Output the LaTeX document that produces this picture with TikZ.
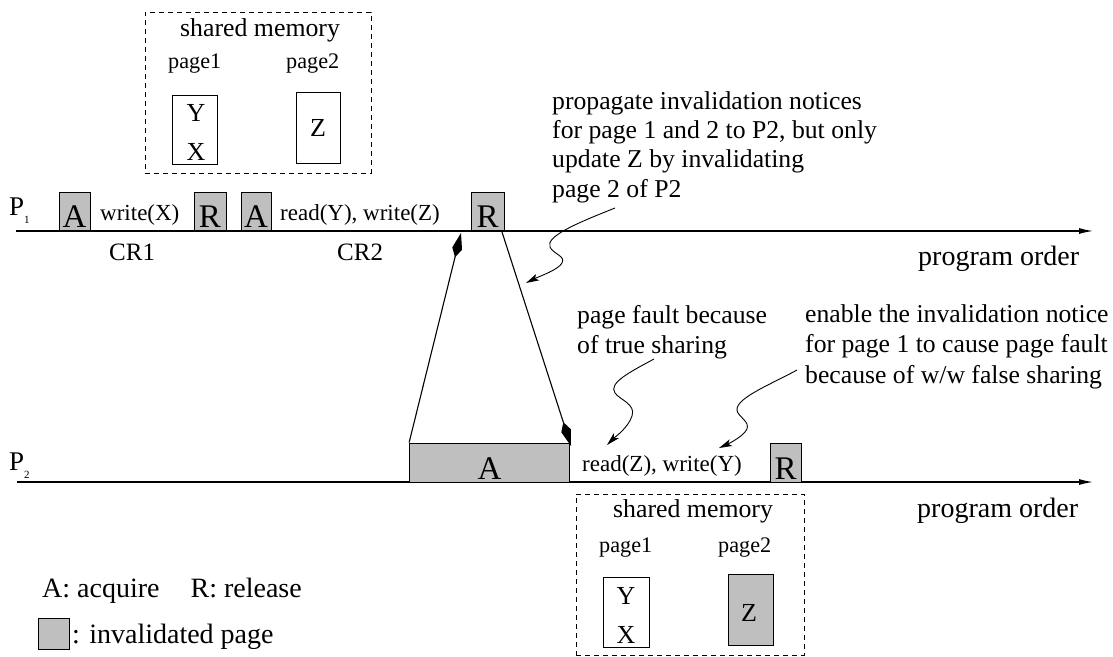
\documentclass[tikz,border=0pt]{standalone}
\usepackage{fontspec}
\setmainfont{Liberation Serif}
\usetikzlibrary{arrows.meta}
\definecolor{inval}{RGB}{191,191,191}
\begin{document}
\begin{tikzpicture}[x=1pt,y=-1pt,
  txt/.style={inner sep=0pt, anchor=base west},
  lbl/.style={txt, font=\fontsize{23}{27}\selectfont},
  ann/.style={txt, align=left, font=\fontsize{25.7}{30}\selectfont},
  big/.style={txt, font=\fontsize{28}{30}\selectfont},
  lockbox/.style={draw, fill=inval, line width=0.8pt, inner sep=0pt,
    minimum width=31pt, minimum height=38pt, text height=35pt, text depth=1.5pt,
    font=\fontsize{33}{33}\selectfont},
  pagebox/.style={draw, line width=0.9pt, inner sep=0pt},
  membox/.style={draw, dashed, dash pattern=on 5pt off 4pt, line width=0.8pt, inner sep=0pt},
  letter/.style={inner sep=0pt, font=\fontsize{26}{26}\selectfont},
  timeline/.style={line width=1.2pt, -{Latex[length=14pt,width=6pt]}},
  msg/.style={line width=1.1pt, -{Kite[length=25pt,width=10pt,inset=9pt]}},
  note/.style={line width=0.9pt, -{Stealth[length=13pt,width=7pt,inset=3pt]}}
]
\useasboundingbox (0,0) rectangle (1113,656);

% ---------- top shared memory ----------
\node[membox, minimum width=226pt, minimum height=161pt] (mem1) at (258,92.5) {};
\node[txt, font=\fontsize{25.8}{28}\selectfont] (sm1) at (180,36) {shared memory};
\node[txt, font=\fontsize{22.2}{26}\selectfont] (pg1a) at (168,68) {page1};
\node[txt, font=\fontsize{22.2}{26}\selectfont] (pg2a) at (286,68) {page2};
\node[pagebox, minimum width=45pt, minimum height=69pt] (b1a) at (194.5,129.5) {};
\node[pagebox, minimum width=44pt, minimum height=71pt] (b2a) at (318,127.5) {};
\node[letter] (ya) at (196,113) {Y};
\node[letter] (xa) at (196,152) {X};
\node[letter] (za) at (318,128) {Z};

% ---------- P1 ----------
\node[txt] (p1) at (9,215) {\fontsize{27}{27}\selectfont P\raisebox{-8pt}{\fontsize{11}{11}\selectfont 1}};
\coordinate (p1s) at (16,231);
\coordinate (p1e) at (1093,231);
\draw[timeline] (p1s) -- (p1e);
\node[lockbox] (a1) at (74.5,211) {A};
\node[lbl] (wx) at (100,220) {write(X)};
\node[lockbox, minimum width=32pt] (r1) at (210,211) {R};
\node[lockbox, minimum width=30pt] (a2) at (256,211) {A};
\node[lbl] (ryw) at (280,220) {read(Y), write(Z)};
\node[lockbox, minimum width=33pt] (r2) at (487.5,211) {R};
\node[txt, font=\fontsize{25}{28}\selectfont] (cr1) at (109,260) {CR1};
\node[txt, font=\fontsize{25}{28}\selectfont] (cr2) at (337,260) {CR2};
\node[big] (po1) at (918,265) {program order};

% ---------- annotations (base = last line) ----------
\node[ann, font=\fontsize{25.7}{29.2}\selectfont] (prop) at (552,197) {propagate invalidation notices\\for page 1 and 2 to P2, but only\\update Z by invalidating\\page 2 of P2};
\node[ann] (pf) at (577,353) {page fault because\\of true sharing};
\node[ann, font=\fontsize{25.7}{30.5}\selectfont] (en) at (805,383) {enable the invalidation notice\\for page 1 to cause page fault\\because of w/w false sharing};

% ---------- P2 ----------
\node[txt] (p2) at (9,470) {\fontsize{27}{27}\selectfont P\raisebox{-8pt}{\fontsize{11}{11}\selectfont 2}};
\coordinate (p2s) at (17,482);
\coordinate (p2e) at (1093,482);
\draw[timeline] (p2s) -- (p2e);
\node[lockbox, minimum width=160pt, minimum height=39pt] (abig) at (489.5,462.5) {A};
\node[lbl] (rzw) at (582,471) {read(Z), write(Y)};
\node[lockbox, minimum width=31pt, minimum height=39pt] (r3) at (785.5,462.5) {R};
\node[big] (po2) at (917,517) {program order};

% ---------- bottom shared memory ----------
\node[membox, minimum width=228pt, minimum height=161pt] (mem2) at (690,574.5) {};
\node[txt, font=\fontsize{25.8}{28}\selectfont] (sm2) at (613,517) {shared memory};
\node[txt, font=\fontsize{22.2}{26}\selectfont] (pg1b) at (599,552) {page1};
\node[txt, font=\fontsize{22.2}{26}\selectfont] (pg2b) at (718,552) {page2};
\node[pagebox, minimum width=46pt, minimum height=70pt] (b1b) at (626,612) {};
\node[pagebox, fill=inval, minimum width=45pt, minimum height=71pt] (b2b) at (750.5,609.5) {};
\node[letter] (yb) at (626,596) {Y};
\node[letter] (xb) at (626,635) {X};
\node[letter] (zb) at (749,613) {Z};

% ---------- legend ----------
\node[big] (leg1) at (42,597) {A: acquire\hspace{31pt}R: release};
\node[draw, fill=inval, line width=0.8pt, inner sep=0pt, minimum width=31pt, minimum height=31pt] (legbox) at (53.5,633.5) {};
\node[big] (leg2) at (72,643) {: invalidated page};

% ---------- message arrows ----------
\coordinate (m1) at (461,233);
\coordinate (m2s) at (502,232);
\coordinate (m2e) at (571,446);
\draw[msg] (abig.north west) -- (m1);
\draw[msg] (m2s) -- (m2e);

% ---------- squiggly notes ----------
\coordinate (n1s) at (615,208);
\coordinate (n1e) at (526,283);
\draw[note] (n1s) .. controls (580,222) and (545,236) .. (550,247)
  .. controls (553,254) and (566,256) .. (562,263)
  .. controls (558,270) and (540,276) .. (n1e);
\coordinate (n2s) at (654,359);
\coordinate (n2e) at (607,445);
\draw[note] (n2s) .. controls (630,372) and (608,383) .. (615,393)
  .. controls (620,400) and (636,404) .. (632,416)
  .. controls (628,428) and (615,437) .. (n2e);
\coordinate (n3s) at (797,370);
\coordinate (n3e) at (719,448);
\draw[note] (n3s) .. controls (770,385) and (730,400) .. (738,413)
  .. controls (742,419) and (752,424) .. (745,432)
  .. controls (740,438) and (728,444) .. (n3e);
\end{tikzpicture}
\end{document}
